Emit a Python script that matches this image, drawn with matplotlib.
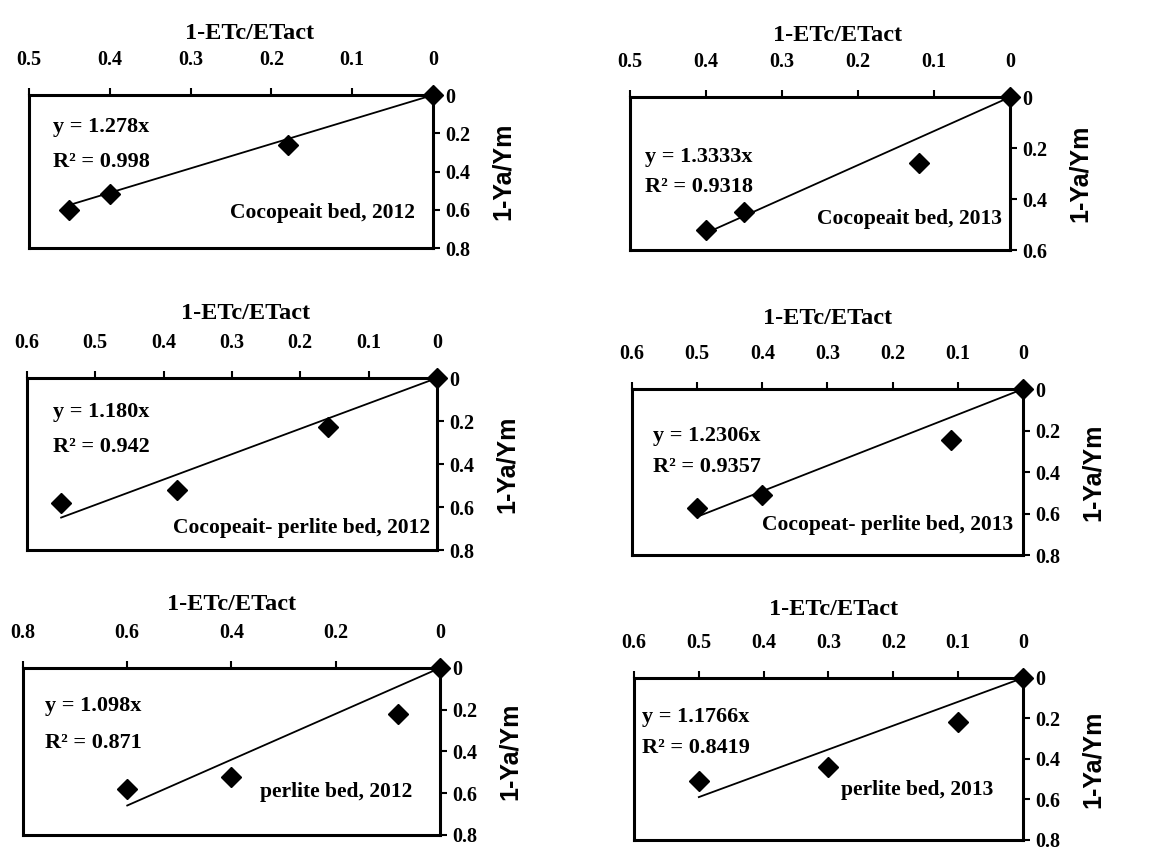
import matplotlib.pyplot as plt
import numpy as np
from matplotlib.ticker import FuncFormatter

plt.rcParams['font.family'] = ['Liberation Serif', 'DejaVu Serif']
plt.rcParams['font.weight'] = 'bold'

# 1-ETc/ETact (x) and 1-Ya/Ym (y) for each bed and year
x_coco12 = [0.45, 0.40, 0.18, 0.0]
y_coco12 = [0.60, 0.52, 0.26, 0.0]
x_coco13 = [0.40, 0.35, 0.12, 0.0]
y_coco13 = [0.52, 0.45, 0.26, 0.0]
x_cp12 = [0.55, 0.38, 0.16, 0.0]
y_cp12 = [0.58, 0.52, 0.23, 0.0]
x_cp13 = [0.50, 0.40, 0.11, 0.0]
y_cp13 = [0.575, 0.51, 0.245, 0.0]
x_per12 = [0.60, 0.40, 0.08, 0.0]
y_per12 = [0.58, 0.52, 0.22, 0.0]
x_per13 = [0.50, 0.30, 0.10, 0.0]
y_per13 = [0.51, 0.44, 0.22, 0.0]

slopes = [1.278, 1.3333, 1.180, 1.2306, 1.098, 1.1766]
slope_text = ['1.278', '1.3333', '1.180', '1.2306', '1.098', '1.1766']
r2_text = ['0.998', '0.9318', '0.942', '0.9357', '0.871', '0.8419']
bed_names = ['Cocopeait bed, 2012', 'Cocopeait bed, 2013',
             'Cocopeait- perlite bed, 2012', 'Cocopeat- perlite bed, 2013',
             'perlite bed, 2012', 'perlite bed, 2013']
x_max = [0.5, 0.5, 0.6, 0.6, 0.8, 0.6]
x_step = [0.1, 0.1, 0.1, 0.1, 0.2, 0.1]
y_max = [0.8, 0.6, 0.8, 0.8, 0.8, 0.8]

xs = [x_coco12, x_coco13, x_cp12, x_cp13, x_per12, x_per13]
ys = [y_coco12, y_coco13, y_cp12, y_cp13, y_per12, y_per13]

# layout: axes rectangles, title shift (px), equation rows, bed label placement
rects = [[0.0247, 0.7072, 0.3444, 0.1806], [0.5371, 0.7048, 0.3240, 0.1806],
         [0.0230, 0.3506, 0.3495, 0.2031], [0.5388, 0.3447, 0.3333, 0.1960],
         [0.0196, 0.0142, 0.3555, 0.1972], [0.5405, 0.0083, 0.3316, 0.1913]]
title_dx = [19, 18, 14, 0, 0, 5]
title_dy = [62, 62, 65, 71, 63, 68]
eq_left = [24, 15, 26, 21, 22, 8]
eq_rows = [(0.21, 0.44), (0.39, 0.59), (0.20, 0.40), (0.28, 0.47), (0.23, 0.45), (0.24, 0.43)]
bed_right = [18, 8, 7, 10, 28, 30]
bed_row = [0.77, 0.80, 0.87, 0.82, 0.74, 0.69]

fig = plt.figure(figsize=(11.73, 8.47), dpi=100)
fmt = FuncFormatter(lambda v, p: '0' if abs(v) < 1e-9 else f'{v:g}')

for i in range(6):
    ax = fig.add_axes(rects[i])
    x = np.array(xs[i])
    y = np.array(ys[i])

    # fitted line through origin out to the furthest point
    xl = np.array([0, x.max()])
    ax.plot(xl, slopes[i] * xl, color='black', lw=1.3)
    ax.plot(x, y, 'D', color='black', ms=10, clip_on=False, zorder=5)

    ax.set_xlim(x_max[i], 0)
    ax.set_ylim(y_max[i], 0)
    ax.set_xticks(np.arange(0, x_max[i] + 1e-9, x_step[i]))
    ax.set_yticks(np.arange(0, y_max[i] + 1e-9, 0.2))
    ax.xaxis.set_major_formatter(fmt)
    ax.yaxis.set_major_formatter(fmt)
    ax.xaxis.tick_top()
    ax.yaxis.tick_right()
    ax.tick_params(axis='x', direction='out', length=5, width=1.5, pad=13, labelsize=14.5)
    ax.tick_params(axis='y', direction='out', length=5, width=1.5, pad=4, labelsize=14.5)
    for s in ax.spines.values():
        s.set_linewidth(2.2)

    ax.annotate('1-ETc/ETact', xy=(0.5, 1), xycoords='axes fraction',
                xytext=(title_dx[i] * 0.72, title_dy[i] * 0.72), textcoords='offset points',
                ha='center', va='center', fontsize=17.5)
    ax.annotate('1-Ya/Ym', xy=(1, 0.5), xycoords='axes fraction',
                xytext=(70 * 0.72, 0), textcoords='offset points',
                ha='center', va='center', rotation=90, fontsize=18,
                family=['Liberation Sans', 'DejaVu Sans'])

    ax.annotate(f'y = {slope_text[i]}x', xy=(0, 1 - eq_rows[i][0]), xycoords='axes fraction',
                xytext=(eq_left[i] * 0.72, 0), textcoords='offset points',
                ha='left', va='center', fontsize=16)
    ax.annotate(f'R² = {r2_text[i]}', xy=(0, 1 - eq_rows[i][1]), xycoords='axes fraction',
                xytext=(eq_left[i] * 0.72, 0), textcoords='offset points',
                ha='left', va='center', fontsize=16)
    ax.annotate(bed_names[i], xy=(1, 1 - bed_row[i]), xycoords='axes fraction',
                xytext=(-bed_right[i] * 0.72, 0), textcoords='offset points',
                ha='right', va='center', fontsize=15.5)

fig.savefig('out.png', dpi=100)
